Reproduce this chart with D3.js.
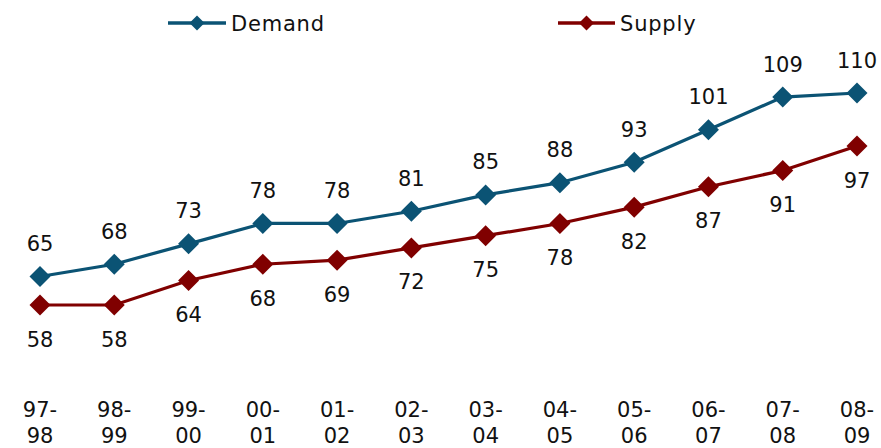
<!DOCTYPE html>
<html>
<head>
<meta charset="utf-8">
<script src="https://cdn.jsdelivr.net/npm/d3@7"></script>
<style>
  html, body { margin: 0; padding: 0; background: #fff; }
  svg { display: block; font-family: "DejaVu Sans", Verdana, sans-serif; }
</style>
</head>
<body>
<svg id="chart" width="881" height="448"></svg>
<script>
// Fiscal years (drawn as two-line labels)
const years = ["97-98", "98-99", "99-00", "00-01", "01-02", "02-03",
               "03-04", "04-05", "05-06", "06-07", "07-08", "08-09"];
const demand = [65, 68, 73, 78, 78, 81, 85, 88, 93, 101, 109, 110];
const supply = [58, 58, 64, 68, 69, 72, 75, 78, 82, 87, 91, 97];

const series = [
  { name: "Demand", values: demand, color: "#0B5374", labelDy: -33, legend: [168, 226] },
  { name: "Supply", values: supply, color: "#800000", labelDy: 34, legend: [558, 615] }
];

const FONT = 21;
const svg = d3.select("#chart");

const x = d3.scalePoint().domain(years).range([40, 857]);
const y = d3.scaleLinear().domain([58, 110]).range([305, 93]);

const line = d3.line()
  .x((d, i) => x(years[i]))
  .y(d => y(d));

const diamondPath = r => `M0,${-r}L${r},0L0,${r}L${-r},0Z`;

series.forEach(s => {
  const g = svg.append("g");
  g.append("path")
    .datum(s.values)
    .attr("fill", "none")
    .attr("stroke", s.color)
    .attr("stroke-width", 3.2)
    .attr("d", line);

  g.selectAll("path.pt")
    .data(s.values)
    .join("path")
    .attr("class", "pt")
    .attr("d", diamondPath(10.5))
    .attr("fill", s.color)
    .attr("transform", (d, i) => `translate(${x(years[i])},${y(d)})`);

  g.selectAll("text.val")
    .data(s.values)
    .join("text")
    .attr("class", "val")
    .attr("x", (d, i) => x(years[i]))
    .attr("y", d => y(d) + s.labelDy)
    .attr("dy", "0.36em")
    .attr("text-anchor", "middle")
    .attr("font-size", FONT)
    .attr("fill", "#111")
    .text(d => d);

  // legend entry: line with a diamond, then the series name
  const [x0, x1] = s.legend;
  const lg = svg.append("g").attr("transform", "translate(0,23)");
  lg.append("line")
    .attr("x1", x0).attr("x2", x1)
    .attr("stroke", s.color).attr("stroke-width", 3.4);
  lg.append("path")
    .attr("d", diamondPath(7.5))
    .attr("transform", `translate(${(x0 + x1) / 2},0)`)
    .attr("fill", s.color);
  lg.append("text")
    .attr("x", x1 + 5).attr("dy", "0.36em")
    .attr("font-size", FONT)
    .attr("letter-spacing", 0.8)
    .attr("fill", "#111")
    .text(s.name);
});

// category labels, split into two lines after the hyphen
const xa = svg.append("g");
xa.selectAll("text")
  .data(years)
  .join("text")
  .attr("y", 409)
  .attr("text-anchor", "middle")
  .attr("font-size", FONT)
  .attr("fill", "#111")
  .each(function(d) {
    const [a, b] = d.split("-");
    const t = d3.select(this);
    t.append("tspan").attr("x", x(d)).attr("dy", "0.36em").text(a + "-");
    t.append("tspan").attr("x", x(d)).attr("dy", 26.5).text(b);
  });
</script>
</body>
</html>
